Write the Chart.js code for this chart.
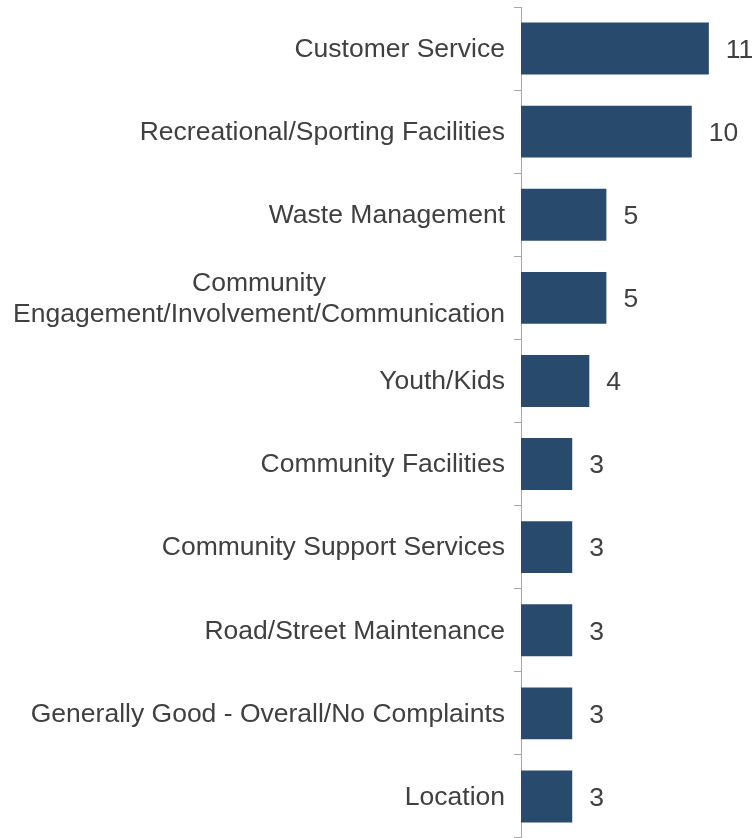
<!DOCTYPE html>
<html>
<head>
<meta charset="utf-8">
<script src="https://cdn.jsdelivr.net/npm/chart.js@4.4.1/dist/chart.umd.min.js"></script>
<style>
  html, body { margin: 0; padding: 0; background: #fff; }
  #wrap { width: 753px; height: 838px; position: relative; }
</style>
</head>
<body>
<div id="wrap"><canvas id="bar_chart"></canvas></div>
<script>
// categories, top to bottom
const categories = [
    "Customer Service",
    "Recreational/Sporting Facilities",
    "Waste Management",
    ["Community", "Engagement/Involvement/Communication"],
    "Youth/Kids",
    "Community Facilities",
    "Community Support Services",
    "Road/Street Maintenance",
    "Generally Good - Overall/No Complaints",
    "Location"
];
const counts = [11, 10, 5, 5, 4, 3, 3, 3, 3, 3];

const BAR_COLOR = "#284b6d";
const TEXT_COLOR = "#404040";
const FONT = "26.5px 'Liberation Sans', Arial, sans-serif";

//
// category labels: right aligned, multi-line ones centred on their longest line
//
const category_labels = {
    id: "category_labels",
    afterDraw(chart) {
        const ctx = chart.ctx;
        const y_scale = chart.scales.y;
        const right = y_scale.right - 16;
        const line_h = 31;
        ctx.save();
        ctx.font = FONT;
        ctx.fillStyle = TEXT_COLOR;
        ctx.textBaseline = "middle";
        ctx.textAlign = "center";
        categories.forEach((label, i) => {
            const y = y_scale.getPixelForValue(i) + 1;
            const lines = Array.isArray(label) ? label : [label];
            const max_w = Math.max(...lines.map(l => ctx.measureText(l).width));
            const top = y - (lines.length - 1) * line_h / 2;
            lines.forEach((line, j) => {
                ctx.fillText(line, right - max_w / 2, top + j * line_h);
            });
        });
        ctx.restore();
    }
};

//
// value labels to the right of each bar
//
const value_labels = {
    id: "value_labels",
    afterDatasetsDraw(chart) {
        const ctx = chart.ctx;
        const meta = chart.getDatasetMeta(0);
        ctx.save();
        ctx.font = FONT;
        ctx.fillStyle = TEXT_COLOR;
        ctx.textAlign = "left";
        ctx.textBaseline = "middle";
        meta.data.forEach((bar, i) => {
            ctx.fillText(String(counts[i]), bar.x + 17, bar.y + 2);
        });
        ctx.restore();
    }
};

new Chart(document.getElementById("bar_chart"), {
    type: "bar",
    data: {
        labels: categories,
        datasets: [{
            data: counts,
            backgroundColor: BAR_COLOR,
            borderWidth: 0,
            categoryPercentage: 1,
            barPercentage: 0.625
        }]
    },
    options: {
        indexAxis: "y",
        responsive: true,
        maintainAspectRatio: false,
        animation: false,
        layout: { padding: { top: 7, right: 10, bottom: 0, left: 0 } },
        plugins: {
            legend: { display: false },
            tooltip: { enabled: false }
        },
        scales: {
            x: {
                display: false,
                min: 0,
                max: 13
            },
            y: {
                afterFit(scale) { scale.width = 521; },
                ticks: { display: false },
                grid: {
                    offset: true,
                    drawOnChartArea: false,
                    drawTicks: true,
                    tickLength: 7,
                    color: "#a6a6a6",
                    lineWidth: 1
                },
                border: { display: true, color: "#a6a6a6", width: 1 }
            }
        }
    },
    plugins: [category_labels, value_labels]
});
</script>
</body>
</html>
